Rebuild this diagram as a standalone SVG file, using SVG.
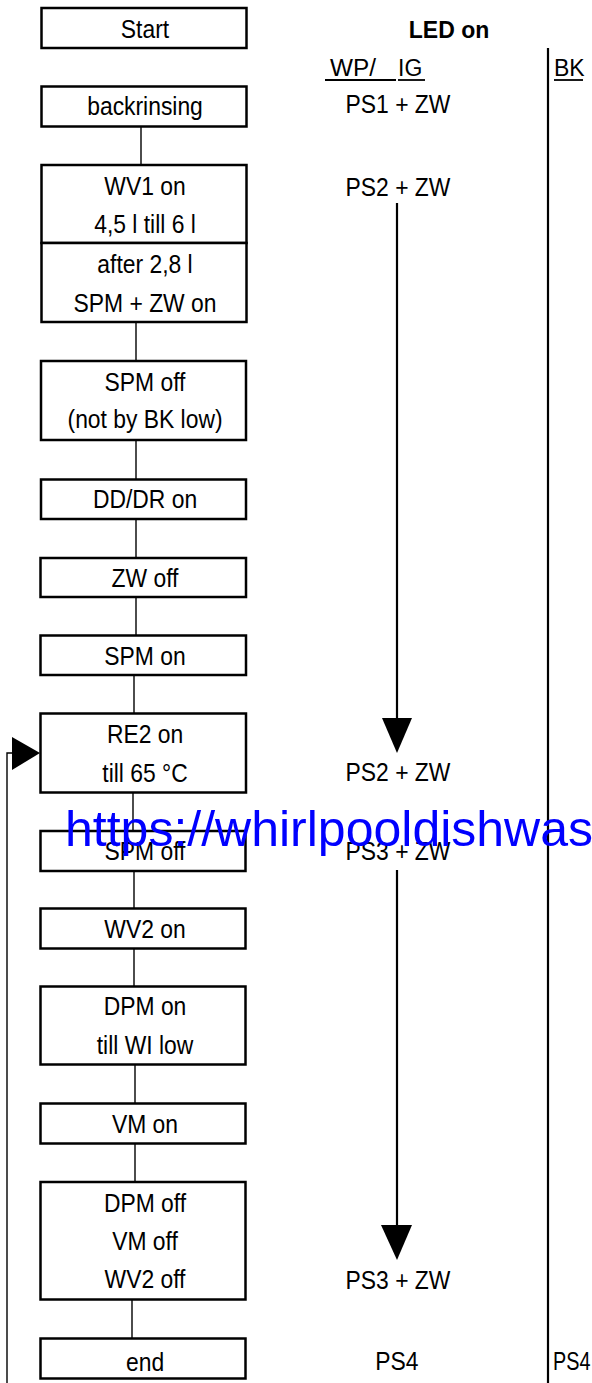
<svg xmlns="http://www.w3.org/2000/svg" width="592" height="1383" viewBox="0 0 592 1383">
<style>
.box{fill:#fff;stroke:#000;stroke-width:2.5}
.t{font-family:"Liberation Sans",Arial,sans-serif;font-size:26px;fill:#000;text-anchor:middle}
.h{font-family:"Liberation Sans",Arial,sans-serif;font-size:23px;fill:#000}
.c{stroke:#000;stroke-width:1.4;fill:none}
.ar{stroke:#000;stroke-width:2.2;fill:none}
</style>
<rect width="592" height="1383" fill="#fff"/>
<g id="connectors">
<line class="c" x1="141" y1="126" x2="141" y2="165"/>
<line class="c" x1="136" y1="322" x2="136" y2="361"/>
<line class="c" x1="136" y1="440" x2="136" y2="479"/>
<line class="c" x1="136" y1="519" x2="136" y2="558"/>
<line class="c" x1="136" y1="597" x2="136" y2="635"/>
<line class="c" x1="134" y1="675" x2="134" y2="713"/>
<line class="c" x1="133" y1="792" x2="133" y2="831"/>
<line class="c" x1="134" y1="871" x2="134" y2="908"/>
<line class="c" x1="134" y1="948" x2="134" y2="986"/>
<line class="c" x1="135" y1="1064" x2="135" y2="1103"/>
<line class="c" x1="135" y1="1143" x2="135" y2="1182"/>
<line class="c" x1="132" y1="1299" x2="132" y2="1338"/>
<polyline class="c" points="7,1383 7,753 13,753"/>
<polygon points="12,737 12,770 40,753" fill="#000"/>
<line class="ar" x1="397" y1="203" x2="397" y2="720"/>
<polygon points="382,718 412,718 397,753" fill="#000"/>
<line class="ar" x1="397" y1="870" x2="397" y2="1227"/>
<polygon points="381,1225 412,1225 397,1260" fill="#000"/>
<line x1="548" y1="48" x2="548" y2="1383" stroke="#000" stroke-width="2.2"/>
</g>
<g id="start"><rect class="box" x="41.5" y="8" width="205" height="40"/></g>
<g id="backrinsing"><rect class="box" x="41.5" y="86.5" width="205" height="40"/></g>
<g id="wv1"><rect class="box" x="41.5" y="165" width="205" height="78"/></g>
<g id="after"><rect class="box" x="41.5" y="243" width="205" height="79"/></g>
<g id="spmoff1"><rect class="box" x="41" y="361" width="205" height="79"/></g>
<g id="dddr"><rect class="box" x="41" y="479.5" width="205" height="39.5"/></g>
<g id="zwoff"><rect class="box" x="40.5" y="558" width="205.5" height="39"/></g>
<g id="spmon"><rect class="box" x="40.5" y="635.5" width="205.5" height="39.5"/></g>
<g id="re2"><rect class="box" x="40.5" y="713.5" width="205.5" height="79"/></g>
<g id="spmoff2"><rect class="box" x="40.5" y="831" width="205" height="40"/></g>
<g id="wv2"><rect class="box" x="40.5" y="908.5" width="205" height="40"/></g>
<g id="dpmon"><rect class="box" x="40.5" y="986.5" width="205" height="78"/></g>
<g id="vmon"><rect class="box" x="40.5" y="1103.5" width="205" height="40"/></g>
<g id="dpmoff"><rect class="box" x="40.5" y="1182" width="205" height="117.5"/></g>
<g id="end"><rect class="box" x="40.5" y="1338.5" width="205" height="40"/></g>
<g id="box-labels" transform="scale(0.88,1)">
<text class="t" x="164.8" y="38">Start</text>
<text class="t" x="164.8" y="115">backrinsing</text>
<text class="t" x="164.8" y="195">WV1 on</text>
<text class="t" x="164.8" y="233">4,5 l till 6 l</text>
<text class="t" x="164.8" y="273">after 2,8 l</text>
<text class="t" x="164.8" y="312">SPM + ZW on</text>
<text class="t" x="164.8" y="391">SPM off</text>
<text class="t" x="164.8" y="428">(not by BK low)</text>
<text class="t" x="164.8" y="508">DD/DR on</text>
<text class="t" x="164.8" y="587">ZW off</text>
<text class="t" x="164.8" y="665">SPM on</text>
<text class="t" x="164.8" y="743">RE2 on</text>
<text class="t" x="164.8" y="782">till 65 °C</text>
<text class="t" x="164.8" y="860">SPM off</text>
<text class="t" x="164.8" y="938">WV2 on</text>
<text class="t" x="164.8" y="1015">DPM on</text>
<text class="t" x="164.8" y="1054">till WI low</text>
<text class="t" x="164.8" y="1133">VM on</text>
<text class="t" x="164.8" y="1212">DPM off</text>
<text class="t" x="164.8" y="1250">VM off</text>
<text class="t" x="164.8" y="1288">WV2 off</text>
<text class="t" x="164.8" y="1371">end</text>
</g>
<g id="led">
<text class="h" x="449" y="38" style="text-anchor:middle;font-weight:bold;font-size:23px">LED on</text>
<text class="h" y="76"><tspan x="330" textLength="46" lengthAdjust="spacingAndGlyphs">WP/</tspan><tspan x="398">IG</tspan></text>
<line x1="325" y1="80" x2="396" y2="80" stroke="#000" stroke-width="1.8"/>
<line x1="398" y1="80" x2="425" y2="80" stroke="#000" stroke-width="1.8"/>
<text class="h" x="554" y="76">BK</text>
<line x1="554" y1="80" x2="583" y2="80" stroke="#000" stroke-width="1.8"/>
<g transform="scale(0.88,1)">
<text class="t" x="452.3" y="113">PS1 + ZW</text>
<text class="t" x="452.3" y="196">PS2 + ZW</text>
<text class="t" x="452.3" y="781">PS2 + ZW</text>
<text class="t" x="452.3" y="860">PS3 + ZW</text>
<text class="t" x="452.3" y="1289">PS3 + ZW</text>
<text class="t" x="451.1" y="1370">PS4</text>
<text class="t" x="628.4" y="1370" style="text-anchor:start" textLength="42.5" lengthAdjust="spacingAndGlyphs">PS4</text>
</g>
</g>
<text x="65" y="846" font-family="Liberation Sans,Arial,sans-serif" font-size="50" fill="#0000FF">https://whirlpooldishwas</text>
</svg>
